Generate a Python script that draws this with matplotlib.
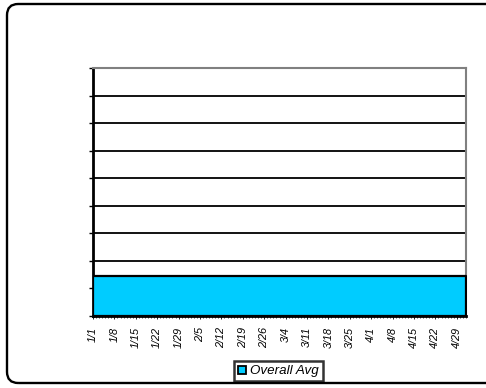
import numpy as np
import matplotlib
matplotlib.use("Agg")
import matplotlib.pyplot as plt
import matplotlib.dates as mdates
from matplotlib.patches import FancyBboxPatch
from matplotlib.lines import Line2D

# series: overall average held flat over the whole period
avg_dates = np.array(["2004-01-01", "2004-05-02"], dtype="datetime64[D]")
overall_avg = [1.44, 1.44]

# weekly category labels on the date axis
tick_dates = np.array(["2004-01-01", "2004-01-08", "2004-01-15", "2004-01-22",
                       "2004-01-29", "2004-02-05", "2004-02-12", "2004-02-19",
                       "2004-02-26", "2004-03-04", "2004-03-11", "2004-03-18",
                       "2004-03-25", "2004-04-01", "2004-04-08", "2004-04-15",
                       "2004-04-22", "2004-04-29"], dtype="datetime64[D]")
tick_labels = ["1/1", "1/8", "1/15", "1/22", "1/29", "2/5", "2/12", "2/19",
               "2/26", "3/4", "3/11", "3/18", "3/25", "4/1", "4/8", "4/15",
               "4/22", "4/29"]
y_ticks = [0, 1, 2, 3, 4, 5, 6, 7, 8, 9]

FILL = "#00CCFF"
GREY = "#808080"

plt.rcParams["font.family"] = ["Liberation Sans", "DejaVu Sans"]

fig = plt.figure(figsize=(4.86, 3.88), dpi=100)

# rounded chart-area frame
frame = FancyBboxPatch((7 / 486, 5 / 388), 500 / 486, 379 / 388,
                       boxstyle="round,pad=0,rounding_size=0.023",
                       transform=fig.transFigure, facecolor="none",
                       edgecolor="black", linewidth=1.7, zorder=0,
                       mutation_aspect=486 / 388)
fig.patches.append(frame)

ax = fig.add_axes([93 / 486, 72 / 388, 373 / 486, 248 / 388])
ax.set_zorder(2)
ax.set_facecolor("white")

x = mdates.date2num(avg_dates.astype("datetime64[ms]").astype(object))
ax.fill_between(x, 0, overall_avg, facecolor=FILL, edgecolor="black",
                linewidth=1.6, zorder=3)

ax.set_xlim(x[0], x[-1])
ax.set_ylim(y_ticks[0], y_ticks[-1])

for y in y_ticks[1:-1]:
    ax.axhline(y, color="black", linewidth=1.3, zorder=2)

ax.set_yticks(y_ticks)
ax.set_yticklabels([])
ax.tick_params(axis="y", direction="out", length=3, width=1, color="black")

tx = mdates.date2num(tick_dates.astype("datetime64[ms]").astype(object))
ax.set_xticks(tx)
ax.set_xticklabels(tick_labels, rotation=90, fontsize=7.8, style="italic")
ax.xaxis.set_minor_locator(matplotlib.ticker.MultipleLocator(1))
ax.tick_params(axis="x", which="major", direction="out", length=2,
               width=0.6, color="black", pad=6)
ax.tick_params(axis="x", which="minor", direction="out", length=1.5,
               width=0.5, color="black")

ax.spines["left"].set_color("black")
ax.spines["left"].set_linewidth(2)
ax.spines["bottom"].set_color("black")
ax.spines["bottom"].set_linewidth(2)
ax.spines["top"].set_color(GREY)
ax.spines["top"].set_linewidth(1.5)
ax.spines["right"].set_color(GREY)
ax.spines["right"].set_linewidth(1.5)

handle = Line2D([], [], linestyle="none", marker="s", markersize=5.5,
                markerfacecolor=FILL, markeredgecolor="black",
                markeredgewidth=1.3)
leg = fig.legend([handle], ["Overall Avg"], loc="center",
                 bbox_to_anchor=(278.5 / 486, 17 / 388),
                 prop={"size": 9.6, "style": "italic"}, fancybox=False,
                 frameon=True, handlelength=0.6, handletextpad=0.3,
                 borderpad=0.3, borderaxespad=0)
leg.get_frame().set_edgecolor("black")
leg.get_frame().set_linewidth(1.8)

fig.savefig("out.png", dpi=100)
